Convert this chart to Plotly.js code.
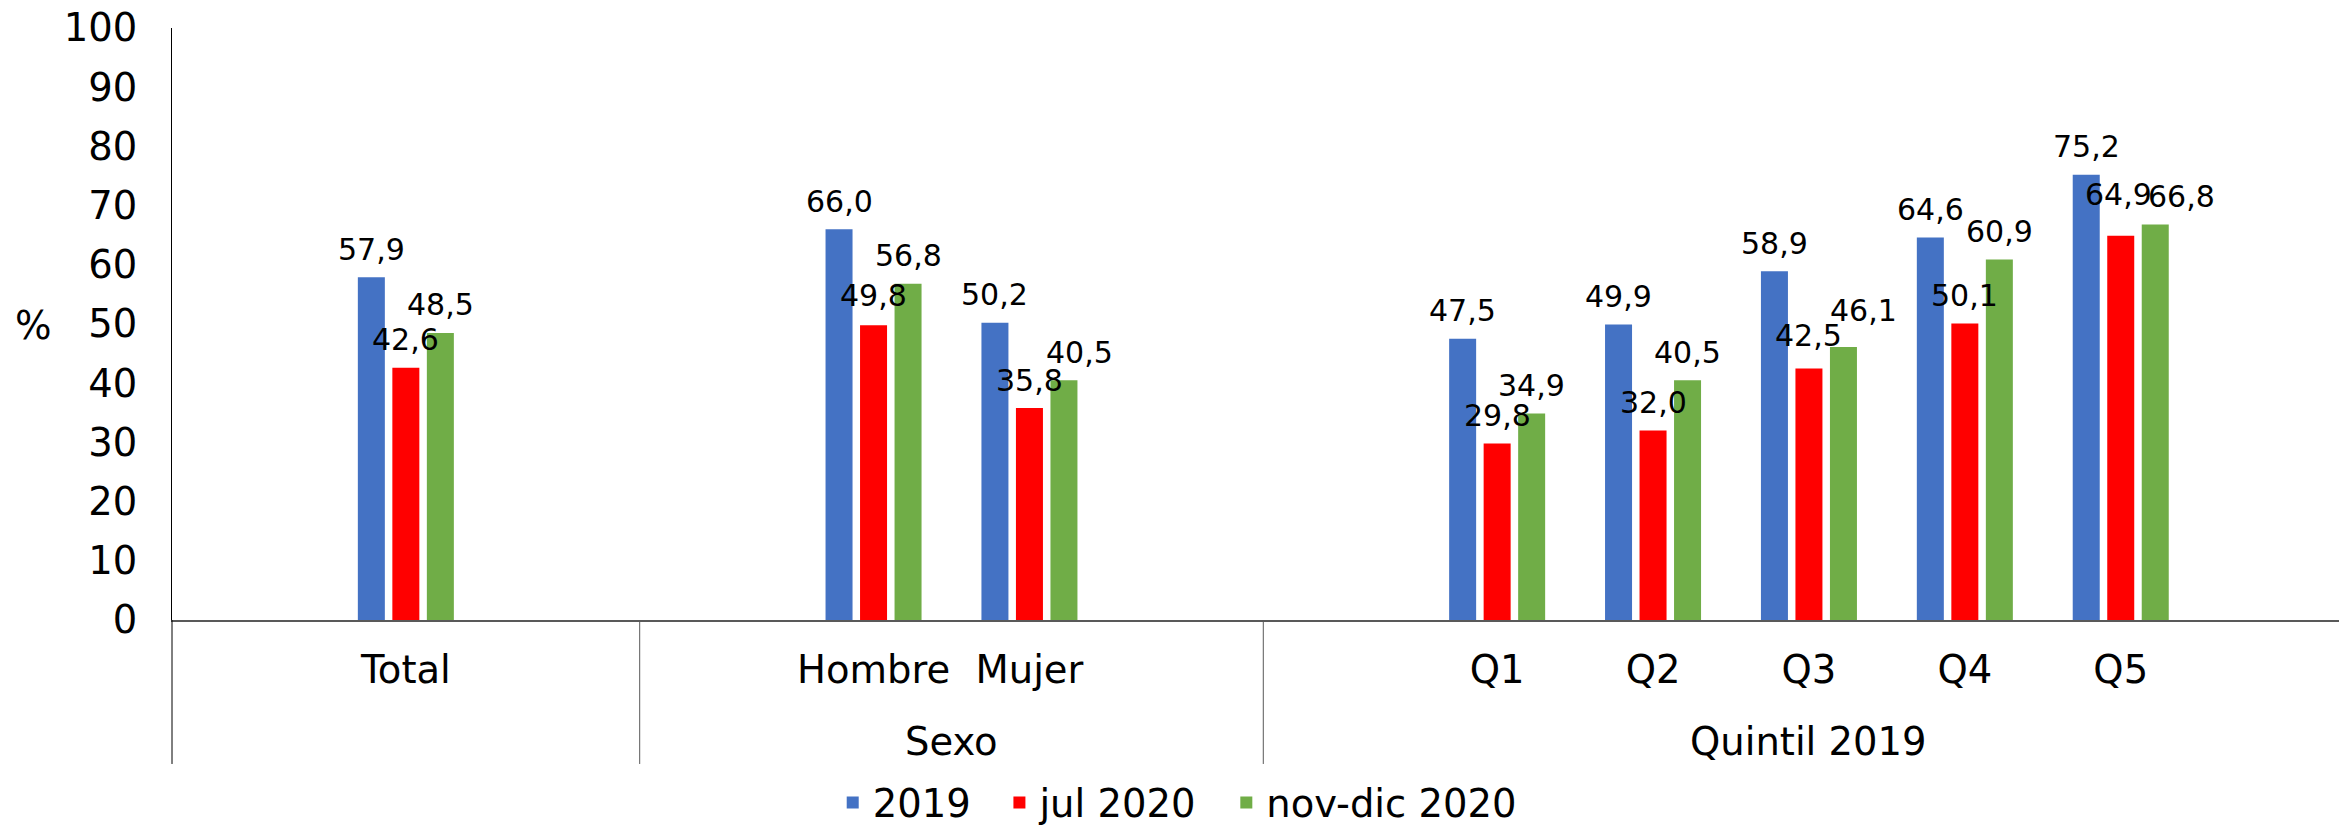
<!DOCTYPE html>
<html>
<head>
<meta charset="utf-8">
<script src="https://cdn.plot.ly/plotly-3.0.1.min.js"></script>
<style>
html, body { margin: 0; padding: 0; background: #ffffff; }
#chart { width: 2341px; height: 826px; }
</style>
</head>
<body>
<div id="chart"></div>
<script>
// ---------------- data ----------------
const categories = ['Total', 'Hombre', 'Mujer', 'Q1', 'Q2', 'Q3', 'Q4', 'Q5'];
const categoryGroup = ['', 'Sexo', 'Sexo', 'Quintil 2019', 'Quintil 2019', 'Quintil 2019', 'Quintil 2019', 'Quintil 2019'];
const groupLabels = ['Sexo', 'Quintil 2019'];
const seriesNames = ['2019', 'jul 2020', 'nov-dic 2020'];
const values2019 = [57.9, 66.0, 50.2, 47.5, 49.9, 58.9, 64.6, 75.2];
const valuesJul2020 = [42.6, 49.8, 35.8, 29.8, 32.0, 42.5, 50.1, 64.9];
const valuesNovDic2020 = [48.5, 56.8, 40.5, 34.9, 40.5, 46.1, 60.9, 66.8];
const yTickValues = [0, 10, 20, 30, 40, 50, 60, 70, 80, 90, 100];

// ---------------- styling / layout constants ----------------
const seriesColors = ['#4472C4', '#FF0000', '#70AD47'];
const FONT = 'DejaVu Sans, Verdana, sans-serif';
const BIG = 38.5, LABEL = 30;
// axis slot of each category (empty slots separate the groups, as in the original)
const categorySlots = [1, 4, 5, 8, 9, 10, 11, 12];
const BARGAP = 0.336, BARGROUPGAP = 0.2174;
// manual nudges (px) of some data labels, as in the original
const labelNudges = [
  {s: 1, cat: 'Hombre', dx: 0, dy: -1.5},
  {s: 2, cat: 'Mujer', dx: 16, dy: 0},
  {s: 1, cat: 'Q3', dx: 0, dy: -5},
  {s: 2, cat: 'Q3', dx: 20, dy: -9},
  {s: 1, cat: 'Q5', dx: -2, dy: -13},
  {s: 2, cat: 'Q5', dx: 26, dy: 0}
];
const legendWidths = [121.7, 181.9, 245];

const allSeries = [values2019, valuesJul2020, valuesNovDic2020];
const fmt = v => v.toFixed(1).replace('.', ',');

const traces = allSeries.map((vals, s) => ({
  type: 'bar',
  name: seriesNames[s],
  x: categorySlots,
  y: vals,
  marker: {color: seriesColors[s], line: {width: 0}},
  legendwidth: legendWidths[s],
  hoverinfo: 'name+y'
}));

// data labels
const slotWidth = (1 - BARGAP) / allSeries.length;
const annotations = [];
allSeries.forEach((vals, s) => {
  vals.forEach((v, i) => {
    const n = labelNudges.find(o => o.s === s && o.cat === categories[i]) || {dx: 0, dy: 0};
    annotations.push({
      x: categorySlots[i] + (s - (allSeries.length - 1) / 2) * slotWidth,
      y: v, xref: 'x', yref: 'y',
      text: fmt(v), showarrow: false,
      xanchor: 'center', yanchor: 'middle',
      xshift: n.dx, yshift: 28 - n.dy,
      font: {family: FONT, size: LABEL, color: '#000000'}
    });
  });
});

// group labels (second level of the category axis)
groupLabels.forEach(g => {
  const slots = categorySlots.filter((_, i) => categoryGroup[i] === g);
  const center = slots.reduce((a, b) => a + b, 0) / slots.length;
  annotations.push({
    x: center, xref: 'x', y: -0.206, yref: 'paper',
    text: g, showarrow: false, xanchor: 'center', yanchor: 'middle',
    font: {family: FONT, size: BIG, color: '#000000'}
  });
});

// "%" label
annotations.push({
  x: -0.0639, xref: 'paper', y: 0.498, yref: 'paper',
  text: '%', showarrow: false, xanchor: 'center', yanchor: 'middle',
  font: {family: FONT, size: BIG, color: '#000000'}
});

// group dividers
const shapes = [];
const AXIS_BOTTOM = -0.2432;
shapes.push({type: 'line', xref: 'paper', yref: 'paper', x0: 0, x1: 0, y0: 0, y1: AXIS_BOTTOM,
  line: {color: '#000000', width: 1}});
for (let i = 1; i < categories.length; i++) {
  if (categoryGroup[i] !== categoryGroup[i - 1]) {
    const xm = (categorySlots[i] + categorySlots[i - 1]) / 2;
    shapes.push({type: 'line', xref: 'x', yref: 'paper', x0: xm, x1: xm, y0: 0, y1: AXIS_BOTTOM,
      line: {color: '#595959', width: 1}});
  }
}

const layout = {
  width: 2341, height: 826,
  margin: {l: 172, r: 2, t: 28, b: 206, pad: 0, autoexpand: false},
  paper_bgcolor: '#ffffff', plot_bgcolor: '#ffffff',
  font: {family: FONT, size: BIG, color: '#000000'},
  barmode: 'group', bargap: BARGAP, bargroupgap: BARGROUPGAP,
  showlegend: true,
  legend: {
    orientation: 'h', x: 0.3049, xanchor: 'left', y: -0.309, yanchor: 'middle',
    font: {family: FONT, size: BIG, color: '#000000'}, traceorder: 'normal',
    bgcolor: 'rgba(0,0,0,0)'
  },
  xaxis: {
    range: [-0.5, 13.4], tickmode: 'array', tickvals: categorySlots, ticktext: categories,
    showgrid: false, zeroline: false, showline: true, linecolor: '#595959', linewidth: 2,
    ticks: '', tickfont: {family: FONT, size: BIG, color: '#000000'},
    ticklabelstandoff: 15, fixedrange: true, automargin: false
  },
  yaxis: {
    range: [0, 100], tickmode: 'array', tickvals: yTickValues,
    showgrid: false, zeroline: false, showline: true, linecolor: '#000000', linewidth: 1,
    ticks: '', tickfont: {family: FONT, size: BIG, color: '#000000'},
    ticklabelstandoff: 26, fixedrange: true, automargin: false
  },
  annotations: annotations,
  shapes: shapes
};

Plotly.newPlot('chart', traces, layout, {displayModeBar: false, staticPlot: true});
</script>
</body>
</html>
